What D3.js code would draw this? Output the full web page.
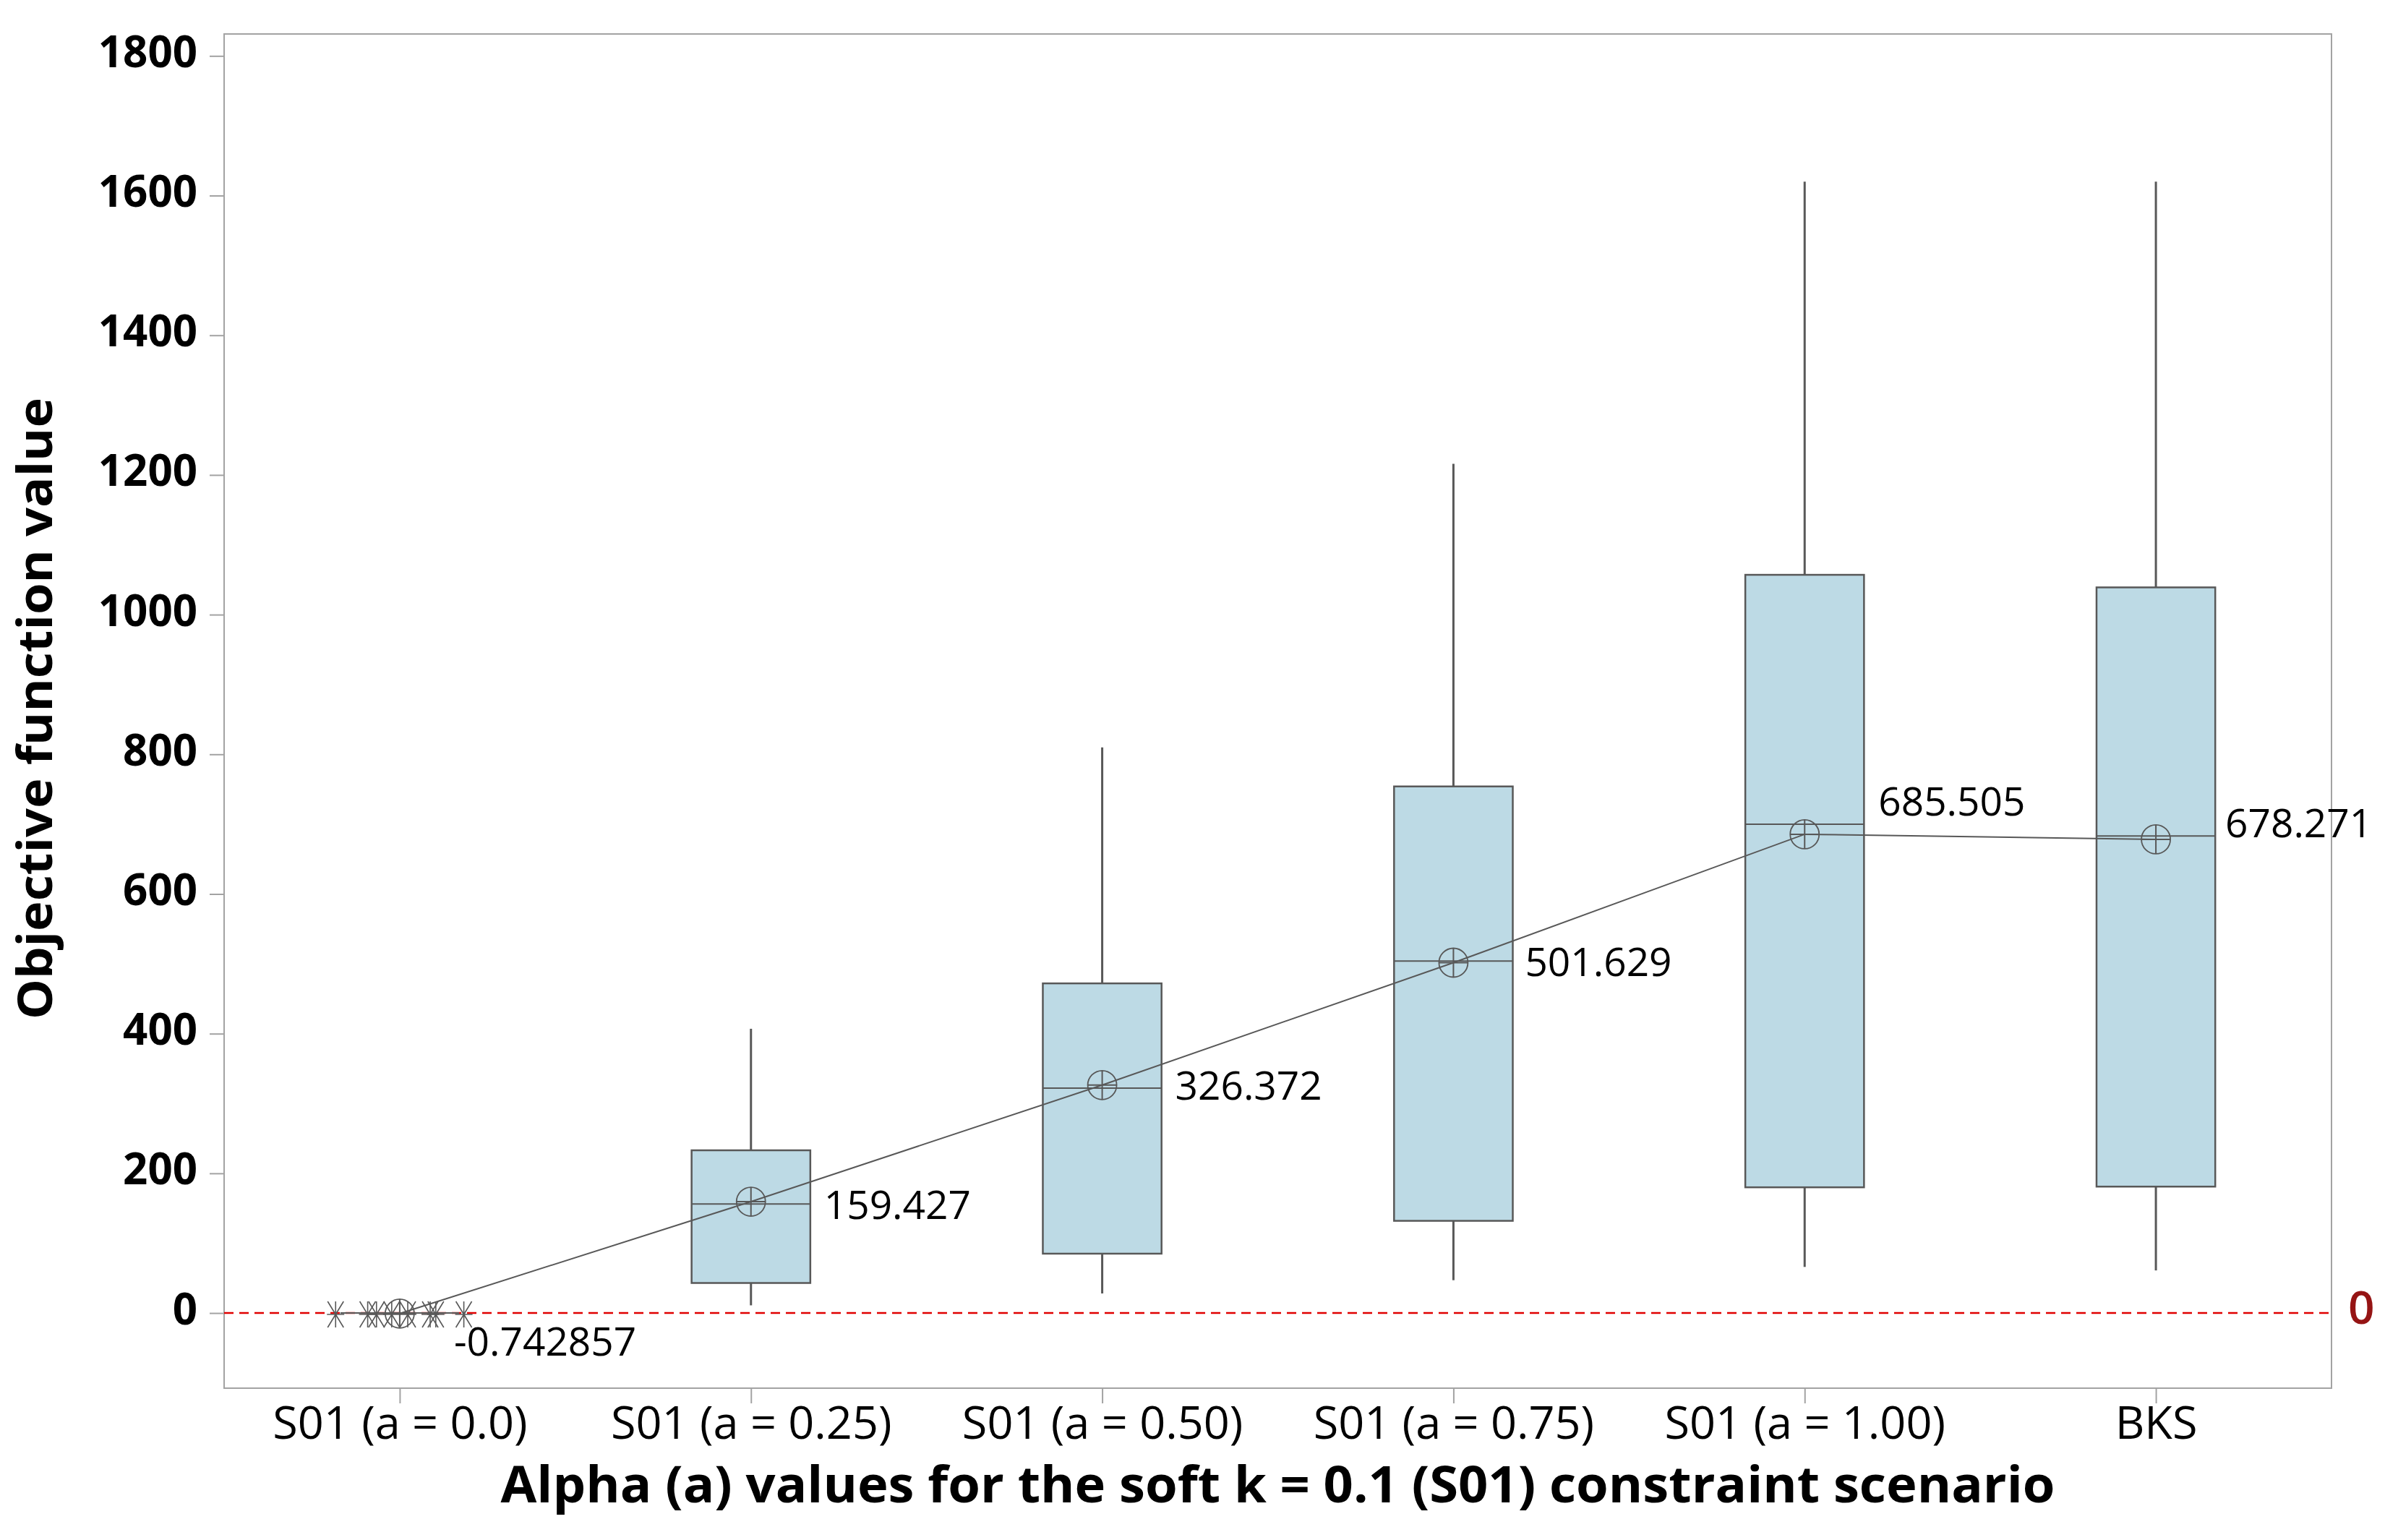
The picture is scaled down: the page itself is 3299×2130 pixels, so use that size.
<!DOCTYPE html>
<html>
<head>
<meta charset="utf-8">
<script src="https://cdn.jsdelivr.net/npm/d3@7"></script>
<style>
  body { margin: 0; background: #fff; }
  text { font-family: "Open Sans", "Noto Sans", sans-serif; }
</style>
</head>
<body>
<div id="chart"></div>
<script>
// categories and box summaries
const categories = ["S01 (a = 0.0)", "S01 (a = 0.25)", "S01 (a = 0.50)", "S01 (a = 0.75)", "S01 (a = 1.00)", "BKS"];
const whiskerLow = [0, 11, 28, 47, 66, 61];
const q1 = [0, 43, 85, 132, 180, 181];
const median = [0, 156, 322, 504, 700, 683];
const q3 = [0, 233, 472, 754, 1057, 1039];
const whiskerHigh = [0, 407, 810, 1216, 1620, 1620];
const means = [-0.742857, 159.427, 326.372, 501.629, 685.505, 678.271];
const meanLabels = ["-0.742857", "159.427", "326.372", "501.629", "685.505", "678.271"];

// outliers of the a = 0.0 group (values near zero, spread side by side)
const zeroOutliers = [-2, -2, -2, -2, -2, -2, -2, -2];
const zeroOutlierSlot = [-4, -2, -1.45, -0.5, 0.5, 1.9, 2.25, 4];

const yTicks = [0, 200, 400, 600, 800, 1000, 1200, 1400, 1600, 1800];
const refValue = 0;

const W = 3299, H = 2130;
const plot = { left: 310, right: 3225, top: 47, bottom: 1920 };

// label nudges so text sits clear of the mean line
const labelDx = [75, 101, 101, 99, 102, 96];
const labelDy = [58, 24, 20, 18, -26, -3];

const boxColor = "#bddae5";
const ink = "#585858";
const frameColor = "#a3a3a3";

let svg = d3.select("#chart").append("svg")
    .attr("width", W)
    .attr("height", H);

const x = d3.scalePoint()
    .domain(categories)
    .range([plot.left, plot.right])
    .padding(0.5);

const y = d3.scaleLinear()
    .domain([-107.6, 1831.4])
    .range([plot.bottom, plot.top]);

const boxW = x.step() * 0.338;

// frame
svg.append("rect")
    .attr("x", plot.left)
    .attr("y", plot.top)
    .attr("width", plot.right - plot.left)
    .attr("height", plot.bottom - plot.top)
    .attr("fill", "none")
    .attr("stroke", frameColor)
    .attr("stroke-width", 2);

// y axis
let yAxis = svg.append("g")
    .attr("transform", "translate(" + plot.left + ",0)")
    .call(d3.axisLeft(y).tickValues(yTicks).tickSize(20).tickPadding(17).tickFormat(d3.format("d")));
yAxis.select(".domain").remove();
yAxis.selectAll(".tick line").attr("stroke", frameColor).attr("stroke-width", 2);
yAxis.selectAll(".tick text")
    .attr("fill", "#000")
    .attr("dy", null)
    .attr("y", 15)
    .style("font-size", "60px")
    .style("font-weight", "bold")
    .style("font-family", "'Open Sans', sans-serif");

// x axis
let xAxis = svg.append("g")
    .attr("transform", "translate(0," + plot.bottom + ")")
    .call(d3.axisBottom(x).tickSize(21).tickPadding(0));
xAxis.select(".domain").remove();
xAxis.selectAll(".tick line").attr("stroke", frameColor).attr("stroke-width", 2);
xAxis.selectAll(".tick text")
    .attr("fill", "#000")
    .attr("dy", null)
    .attr("y", 70)
    .style("font-size", "63px")
    .style("font-family", "'Open Sans', sans-serif");

// reference line at zero
svg.append("line")
    .attr("x1", plot.left)
    .attr("x2", plot.right)
    .attr("y1", y(refValue))
    .attr("y2", y(refValue))
    .attr("stroke", "#e00000")
    .attr("stroke-width", 2.5)
    .attr("stroke-dasharray", "13,8");

svg.append("text")
    .attr("x", plot.right + 23)
    .attr("y", y(refValue) + 15)
    .attr("fill", "#951414")
    .style("font-size", "64px")
    .style("font-weight", "600")
    .text(String(refValue));

const data = categories.map((c, i) => ({
    cat: c,
    lo: whiskerLow[i],
    q1: q1[i],
    med: median[i],
    q3: q3[i],
    hi: whiskerHigh[i],
    mean: means[i],
    label: meanLabels[i],
    dx: labelDx[i],
    dy: labelDy[i]
}));

let boxes = svg.append("g").selectAll("g")
    .data(data)
    .join("g");

// whiskers
boxes.append("line")
    .attr("x1", d => x(d.cat))
    .attr("x2", d => x(d.cat))
    .attr("y1", d => y(d.q3))
    .attr("y2", d => y(d.hi))
    .attr("stroke", ink)
    .attr("stroke-width", 3);
boxes.append("line")
    .attr("x1", d => x(d.cat))
    .attr("x2", d => x(d.cat))
    .attr("y1", d => y(d.q1))
    .attr("y2", d => y(d.lo))
    .attr("stroke", ink)
    .attr("stroke-width", 3);

boxes.append("rect")
    .attr("x", d => x(d.cat) - boxW / 2)
    .attr("y", d => y(d.q3))
    .attr("width", boxW)
    .attr("height", d => Math.max(y(d.q1) - y(d.q3), 0))
    .attr("fill", boxColor)
    .attr("stroke", ink)
    .attr("stroke-width", d => (d.q3 - d.q1) === 0 ? 5 : 2.5);

boxes.append("line")
    .attr("x1", d => x(d.cat) - boxW / 2)
    .attr("x2", d => x(d.cat) + boxW / 2)
    .attr("y1", d => y(d.med))
    .attr("y2", d => y(d.med))
    .attr("stroke", ink)
    .attr("stroke-width", 2);

// outliers of the first group, drawn as tall asterisks
const slotX = d3.scaleLinear().domain([-4, 4]).range([-boxW * 0.54, boxW * 0.54]);
svg.append("g").selectAll("path")
    .data(zeroOutliers)
    .join("path")
    .attr("transform", (d, i) => "translate(" + (x(categories[0]) + slotX(zeroOutlierSlot[i])) + "," + y(d) + ")")
    .attr("d", "M-11,-18L11,18M11,-18L-11,18M0,-18L0,18M-12,0L12,0")
    .attr("fill", "none")
    .attr("stroke", ink)
    .attr("stroke-width", 1.6);

// mean connect line
svg.append("path")
    .datum(data)
    .attr("d", d3.line().x(d => x(d.cat)).y(d => y(d.mean)))
    .attr("fill", "none")
    .attr("stroke", ink)
    .attr("stroke-width", 2);

// mean symbols: circle with cross
let meanG = svg.append("g").selectAll("g")
    .data(data)
    .join("g")
    .attr("transform", d => "translate(" + x(d.cat) + "," + y(d.mean) + ")");
meanG.append("circle")
    .attr("r", 20)
    .attr("fill", "none")
    .attr("stroke", ink)
    .attr("stroke-width", 1.8);
meanG.append("path")
    .attr("d", "M-20,0L20,0M0,-20L0,20")
    .attr("stroke", ink)
    .attr("stroke-width", 2);

// mean labels
svg.append("g").selectAll("text")
    .data(data)
    .join("text")
    .attr("x", d => x(d.cat) + d.dx)
    .attr("y", d => y(d.mean) + d.dy)
    .attr("fill", "#000")
    .style("font-size", "55px")
    .text(d => d.label);

// axis titles
svg.append("text")
    .attr("x", (plot.left + plot.right) / 2)
    .attr("y", 2078)
    .attr("text-anchor", "middle")
    .attr("textLength", 2150)
    .attr("lengthAdjust", "spacingAndGlyphs")
    .style("font-size", "70px")
    .style("font-weight", "bold")
    .text("Alpha (a) values for the soft k = 0.1 (S01) constraint scenario");

svg.append("text")
    .attr("transform", "translate(72,980) rotate(-90)")
    .attr("text-anchor", "middle")
    .attr("textLength", 860)
    .attr("lengthAdjust", "spacingAndGlyphs")
    .style("font-size", "67px")
    .style("font-weight", "bold")
    .text("Objective function value");
</script>
</body>
</html>
